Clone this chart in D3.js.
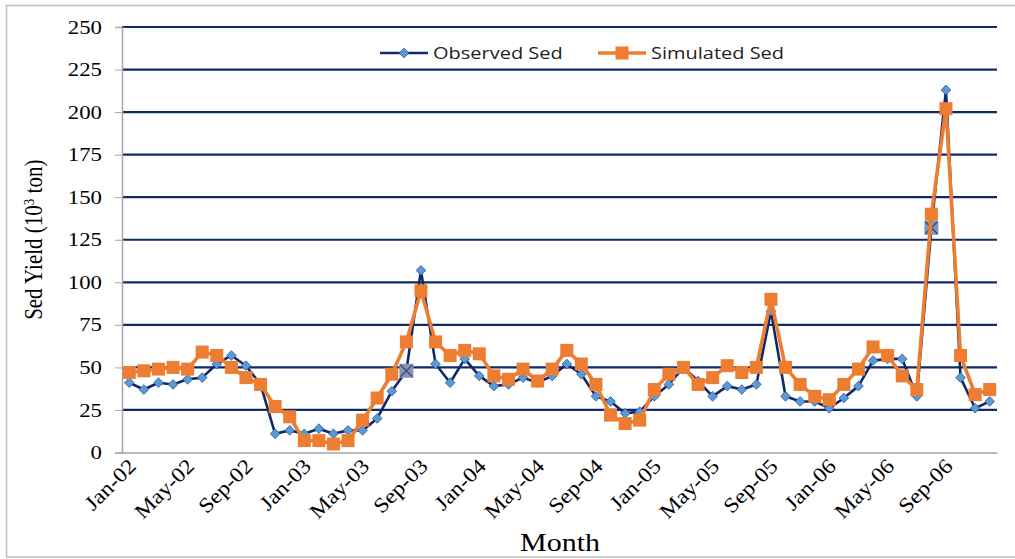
<!DOCTYPE html>
<html>
<head>
<meta charset="utf-8">
<script src="https://cdn.jsdelivr.net/npm/d3@7"></script>
<style>
  body { margin: 0; background: #fff; }
  svg { display: block; }
</style>
</head>
<body>
<svg id="chart"></svg>
<script>
const monthNames = ['Jan','Feb','Mar','Apr','May','Jun','Jul','Aug','Sep','Oct','Nov','Dec']
const years = ['02','03','04','05','06']
const months = years.flatMap(y => monthNames.map(m => m + '-' + y))

const observed = [
  41, 37, 41, 40, 43, 44, 52, 57, 51, 40, 11, 13,
  11, 14, 11, 13, 13, 20, 36, 48, 107, 52, 41, 55,
  45, 39, 40, 44, 41, 45, 52, 46, 33, 30, 23, 24,
  33, 40, 50, 42, 33, 39, 37, 40, 83, 33, 30, 30,
  26, 32, 39, 54, 55, 55, 33, 132, 213, 44, 26, 30
]
const simulated = [
  47, 48, 49, 50, 49, 59, 57, 50, 44, 40, 27, 21,
  7, 7, 5, 7, 19, 32, 46, 65, 95, 65, 57, 60,
  58, 45, 43, 49, 42, 49, 60, 52, 40, 22, 17, 19,
  37, 46, 50, 40, 44, 51, 47, 50, 90, 50, 40, 33,
  31, 40, 49, 62, 57, 45, 37, 140, 202, 57, 34, 37
]
// observed points drawn with the grey "x" box marker
const flagged = [19, 55]
const yTicks = [0, 25, 50, 75, 100, 125, 150, 175, 200, 225, 250]
const xTickLabels = months.filter((d, i) => i % 4 === 0)

const width = 1015, height = 559
const margin = {left: 122, right: 18, top: 27, bottom: 107}
// the original picture is a bit stretched sideways
const stretch = 1.2

const svg = d3.select('#chart').attr('width', width).attr('height', height)

// outer chart border
svg.append('rect')
  .attr('x', 6.5).attr('y', 5.5)
  .attr('width', 1020).attr('height', 551.5)
  .attr('fill', 'none').attr('stroke', '#bdbdbd').attr('stroke-width', 1.5)

let x = d3.scaleBand()
  .domain(months)
  .range([margin.left, width - margin.right])
let y = d3.scaleLinear()
  .domain([0, 250])
  .range([height - margin.bottom + 0.5, margin.top])

let cx = d => x(d) + x.bandwidth() / 2

// gridlines
svg.append('g')
  .selectAll('line')
  .data(yTicks.filter(d => d > 0))
  .join('line')
  .attr('x1', margin.left).attr('x2', width - margin.right)
  .attr('y1', d => y(d)).attr('y2', d => y(d))
  .attr('stroke', '#0f2a68').attr('stroke-width', 2.2)

// y axis
let yAxis = svg.append('g')
  .attr('transform', `translate(${margin.left},0)`)
  .call(d3.axisLeft(y).tickValues(yTicks).tickSize(7))
yAxis.select('.domain').attr('stroke', '#a6a6a6').attr('stroke-width', 1.5)
yAxis.selectAll('.tick line').attr('stroke', '#a6a6a6')
yAxis.selectAll('.tick text')
  .attr('font-family', '"Liberation Serif", serif')
  .attr('font-size', 19).attr('fill', '#000')
  .attr('x', 0)
  .attr('transform', `translate(-20,0) scale(${stretch},1)`)

// x axis
let xAxis = svg.append('g')
  .attr('transform', `translate(0,${y(0)})`)
  .call(d3.axisBottom(x).tickValues(xTickLabels).tickSize(0).tickSizeOuter(0))
xAxis.select('.domain').attr('stroke', '#a6a6a6').attr('stroke-width', 1.5)
xAxis.selectAll('.tick text')
  .attr('font-family', '"Liberation Serif", serif')
  .attr('font-size', 21).attr('fill', '#000')
  .attr('text-anchor', 'end')
  .attr('dy', null).attr('y', 0)
  .attr('transform', 'translate(8,15) rotate(-45) scale(1.12,1)')

// axis titles
svg.append('text')
  .attr('transform', `translate(42,${(y(0) + y(250)) / 2}) scale(${stretch},1) rotate(-90)`)
  .attr('text-anchor', 'middle')
  .attr('font-family', '"Liberation Serif", serif')
  .attr('font-size', 21)
  .html('Sed Yield (10<tspan dy="-7" font-size="13">3</tspan><tspan dy="7"> ton)</tspan>')

svg.append('text')
  .attr('transform', `translate(560,551) scale(${stretch},1)`)
  .attr('text-anchor', 'middle')
  .attr('font-family', '"Liberation Serif", serif')
  .attr('font-size', 25)
  .text('Month')

// series
let line = d3.line()
  .x((d, i) => cx(months[i]))
  .y(d => y(d))

svg.append('path')
  .datum(observed)
  .attr('d', line)
  .attr('fill', 'none').attr('stroke', '#10296b').attr('stroke-width', 2.6)
  .attr('stroke-linejoin', 'round')

let diamond = d3.symbol().type(d3.symbolDiamond2).size(60)

svg.append('g')
  .selectAll('path')
  .data(observed.map((v, i) => ({v, i})).filter(d => !flagged.includes(d.i)))
  .join('path')
  .attr('d', diamond)
  .attr('transform', d => `translate(${cx(months[d.i])},${y(d.v)})`)
  .attr('fill', '#5b9bd5').attr('stroke', '#2f5597').attr('stroke-width', 0.8)

let flaggedG = svg.append('g')
  .selectAll('g')
  .data(flagged.map(i => ({v: observed[i], i})))
  .join('g')
  .attr('transform', d => `translate(${cx(months[d.i])},${y(d.v)})`)
flaggedG.append('rect')
  .attr('x', -7).attr('y', -7).attr('width', 14).attr('height', 14)
  .attr('fill', '#8596b8')
flaggedG.append('path')
  .attr('d', 'M-6,-6L6,6M6,-6L-6,6')
  .attr('stroke', '#3c4f7c').attr('stroke-width', 1.4)

svg.append('path')
  .datum(simulated)
  .attr('d', line)
  .attr('fill', 'none').attr('stroke', '#ed7d31').attr('stroke-width', 3.6)
  .attr('stroke-linejoin', 'round')

svg.append('g')
  .selectAll('rect')
  .data(simulated)
  .join('rect')
  .attr('x', (d, i) => cx(months[i]) - 6.5)
  .attr('y', d => y(d) - 6.5)
  .attr('width', 13).attr('height', 13)
  .attr('fill', '#ed7d31')

// legend
let legend = svg.append('g').attr('font-family', '"Open Sans", sans-serif').attr('font-size', 17)
let items = [
  {name: 'Observed Sed', x: 380, kind: 'obs'},
  {name: 'Simulated Sed', x: 598, kind: 'sim'}
]
items.forEach(it => {
  let g = legend.append('g').attr('transform', `translate(${it.x},53)`)
  if (it.kind === 'obs') {
    g.append('line').attr('x1', 0).attr('x2', 48).attr('stroke', '#10296b').attr('stroke-width', 2.6)
    g.append('path').attr('d', diamond).attr('transform', 'translate(24,0)')
      .attr('fill', '#5b9bd5').attr('stroke', '#2f5597').attr('stroke-width', 0.8)
  } else {
    g.append('line').attr('x1', 0).attr('x2', 48).attr('stroke', '#ed7d31').attr('stroke-width', 3.6)
    g.append('rect').attr('x', 17.5).attr('y', -6.5).attr('width', 13).attr('height', 13).attr('fill', '#ed7d31')
  }
  g.append('text')
    .attr('transform', `translate(53,0) scale(${stretch * 0.98},1)`)
    .attr('dy', '0.35em').attr('fill', '#222').text(it.name)
})
</script>
</body>
</html>
